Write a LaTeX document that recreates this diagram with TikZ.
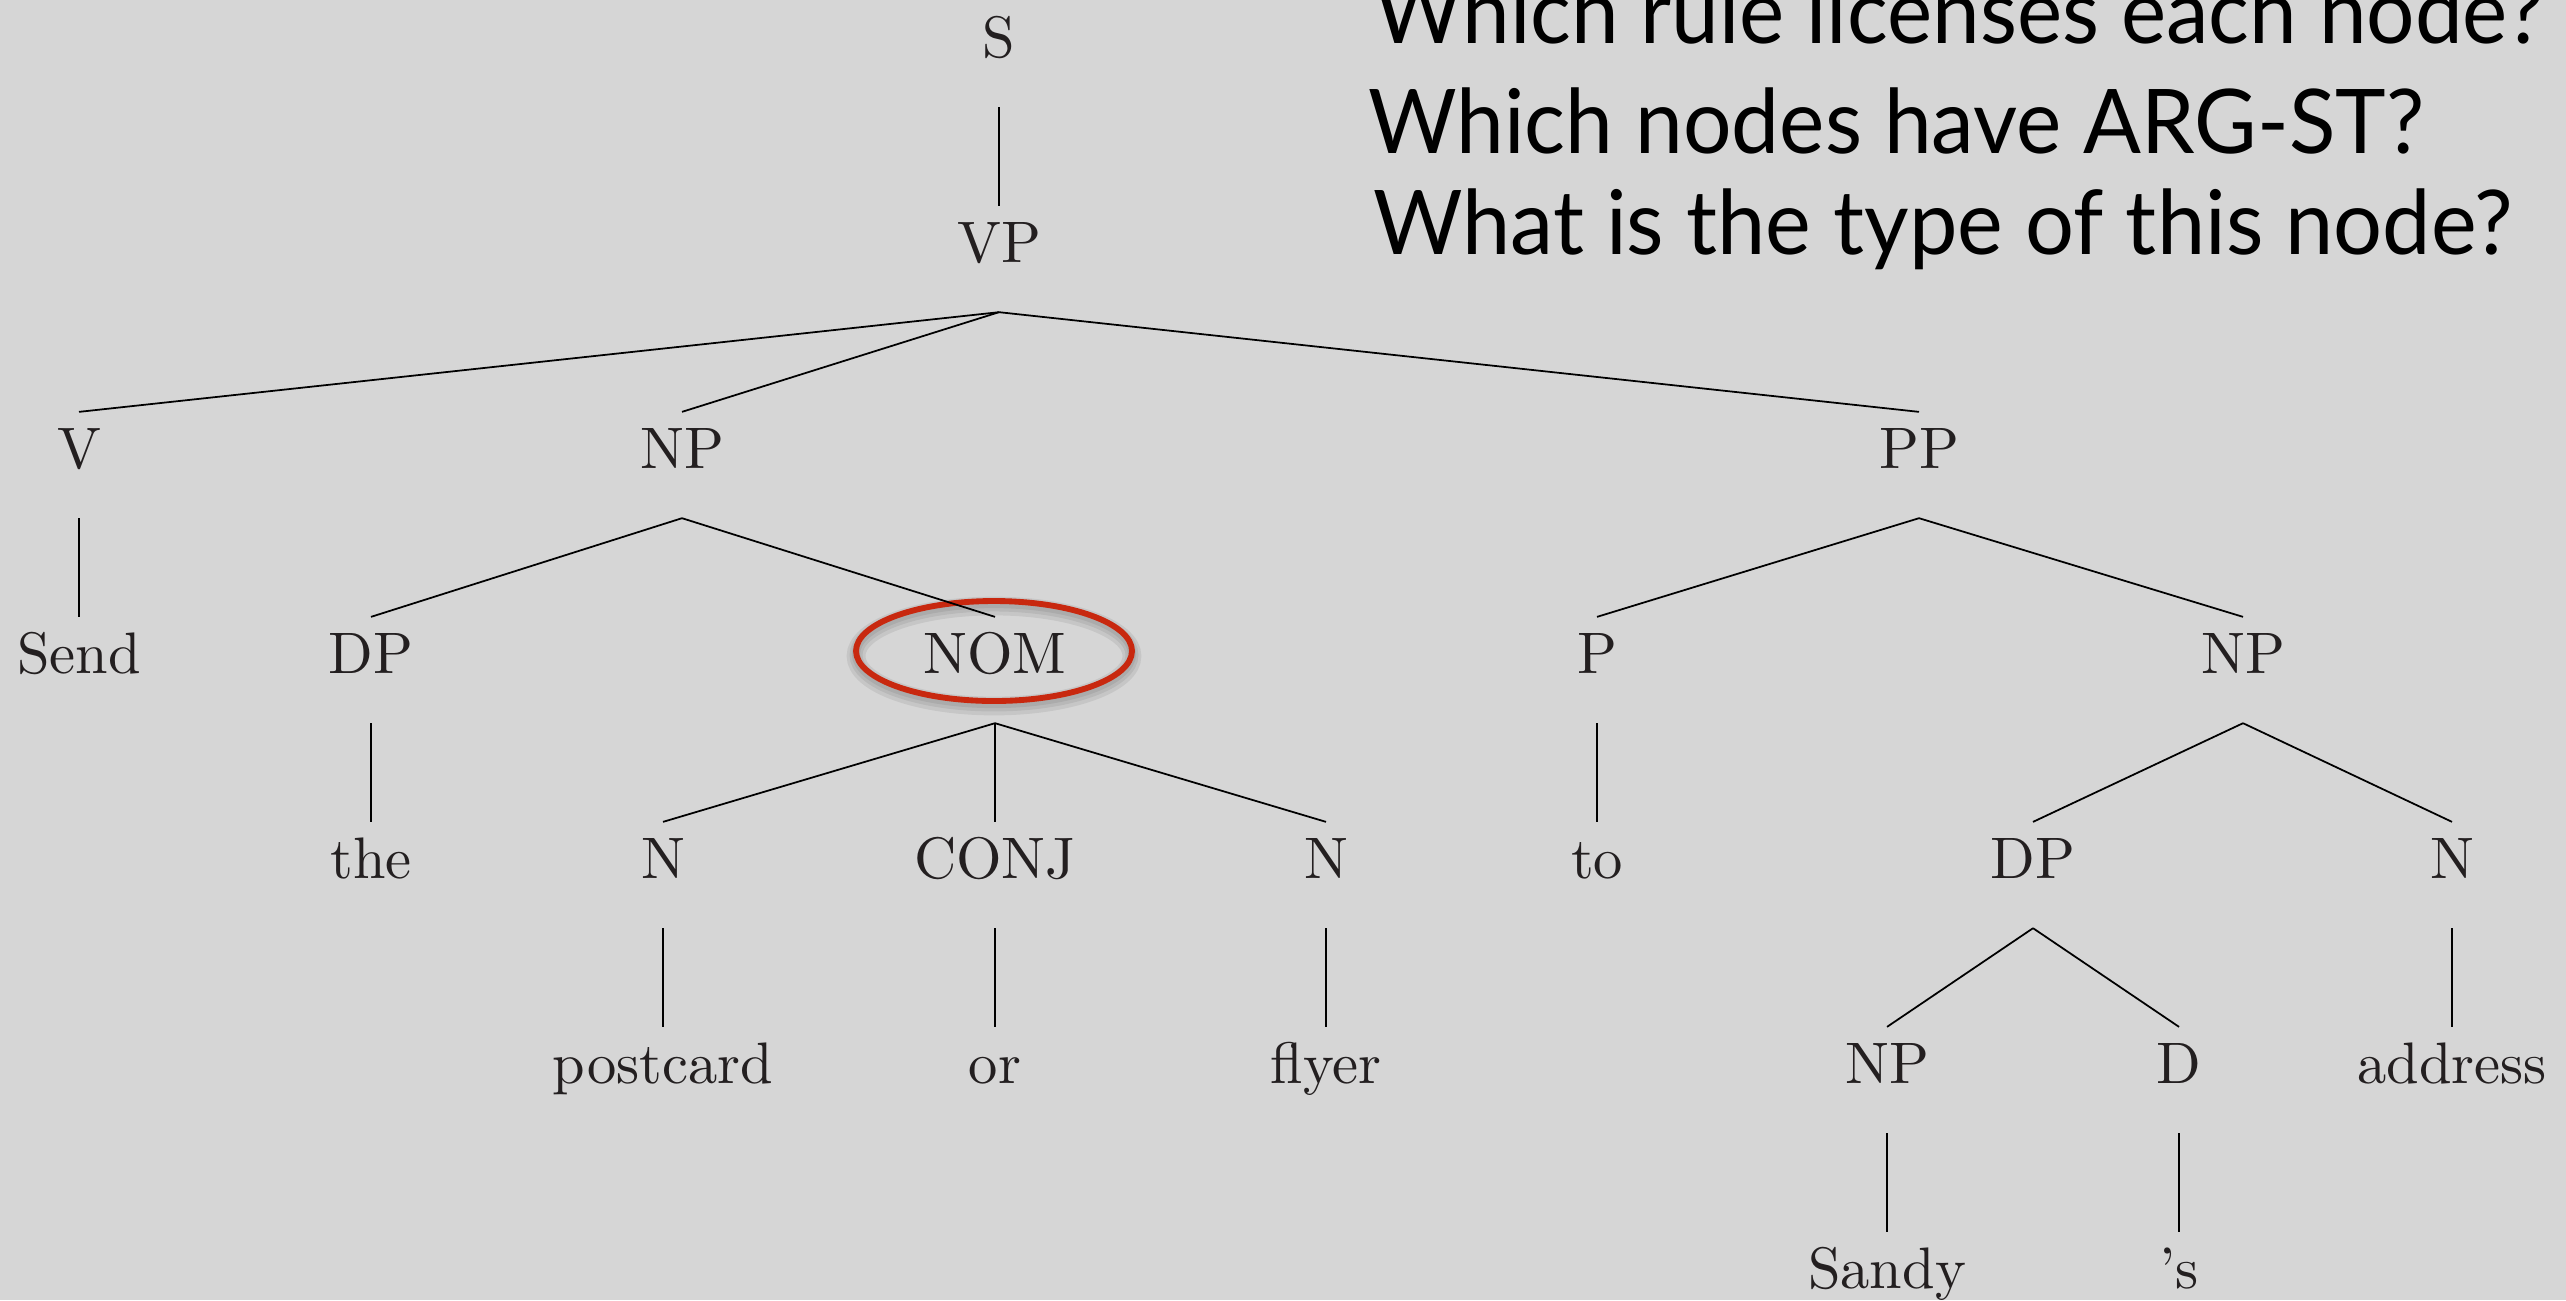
\documentclass[tikz,border=0pt]{standalone}
\usepackage{fontspec}
\usepackage{graphicx}
\newfontfamily\questionfont{Lato}
\definecolor{slidebg}{RGB}{214,214,214}
\definecolor{inkgray}{RGB}{35,31,32}
\definecolor{markred}{RGB}{200,40,15}

\begin{document}
\begin{tikzpicture}[x=0.1708pt,y=-0.1708pt,
  lab/.style={anchor=base, inner xsep=0pt, inner ysep=2.56pt,
    text height=6.83pt, text depth=5.81pt, text=inkgray,
    font=\fontsize{10}{12}\selectfont},
  branch/.style={draw=black, line width=0.3pt},
  question/.style={anchor=base west, inner sep=0pt, text=black,
    font=\questionfont\fontsize{15.25}{18}\selectfont},
  ring/.style={draw=markred, line width=1pt},
  ringshade/.style={draw=black, line width=#1, opacity=0.07}]

% slide area
\useasboundingbox (0,0) rectangle (2566,1300);
\clip (0,0) rectangle (2566,1300);
\fill[slidebg] (0,0) rectangle (2566,1300);

% questions
\node[question] (q1) at (1373,43) {\resizebox{199.8pt}{\height}{Which rule licenses each node?}};
\node[question] (q2) at (1367,153) {\resizebox{180.4pt}{\height}{Which nodes have ARG-ST?}};
\node[question] (q3) at (1372,254) {\resizebox{194.7pt}{\height}{What is the type of this node?}};

% highlight ring round NOM, with its soft shadow
\foreach \w/\dy in {3.2pt/5, 2.2pt/4, 1.4pt/3}
  \draw[ringshade=\w] (994,651+\dy) ellipse [x radius=23.57pt, y radius=8.54pt];
\draw[ring] (994,651) ellipse [x radius=23.57pt, y radius=8.54pt];

% tree labels (positions are baselines)
\node[lab] (S)     at (999,57)   {S};
\node[lab] (VP)    at (999,262)  {VP};

\node[lab] (V)     at (79,468)   {V};
\node[lab] (NPa)   at (682,468)  {NP};
\node[lab] (PP)    at (1919,468) {PP};

\node[lab] (Send)  at (79,673)   {Send};
\node[lab] (DPa)   at (371,673)  {DP};
\node[lab] (NOM)   at (995,673)  {NOM};
\node[lab] (P)     at (1597,673) {P};
\node[lab] (NPb)   at (2243,673) {NP};

\node[lab] (the)   at (371,878)  {the};
\node[lab] (Na)    at (663,878)  {N};
\node[lab] (CONJ)  at (995,878)  {CONJ};
\node[lab] (Nb)    at (1326,878) {N};
\node[lab] (to)    at (1597,878) {to};
\node[lab] (DPb)   at (2033,878) {DP};
\node[lab] (Nc)    at (2452,878) {N};

\node[lab] (postcard) at (663,1083)  {postcard};
\node[lab] (or)       at (995,1083)  {or};
\node[lab] (flyer)    at (1326,1083) {flyer};
\node[lab] (NPc)      at (1887,1083) {NP};
\node[lab] (D)        at (2179,1083) {D};
\node[lab] (address)  at (2452,1083) {address};

\node[lab] (Sandy) at (1887,1288) {Sandy};
\node[lab] (poss)  at (2179,1288) {'s};

% branches
\draw[branch] (S.south) -- (VP.north);
\foreach \c in {V,NPa,PP} \draw[branch] (VP.south) -- (\c.north);
\draw[branch] (V.south) -- (Send.north);
\foreach \c in {DPa,NOM} \draw[branch] (NPa.south) -- (\c.north);
\foreach \c in {P,NPb} \draw[branch] (PP.south) -- (\c.north);
\draw[branch] (DPa.south) -- (the.north);
\foreach \c in {Na,CONJ,Nb} \draw[branch] (NOM.south) -- (\c.north);
\draw[branch] (P.south) -- (to.north);
\foreach \c in {DPb,Nc} \draw[branch] (NPb.south) -- (\c.north);
\draw[branch] (Na.south) -- (postcard.north);
\draw[branch] (CONJ.south) -- (or.north);
\draw[branch] (Nb.south) -- (flyer.north);
\foreach \c in {NPc,D} \draw[branch] (DPb.south) -- (\c.north);
\draw[branch] (Nc.south) -- (address.north);
\draw[branch] (NPc.south) -- (Sandy.north);
\draw[branch] (D.south) -- (poss.north);
\end{tikzpicture}
\end{document}
